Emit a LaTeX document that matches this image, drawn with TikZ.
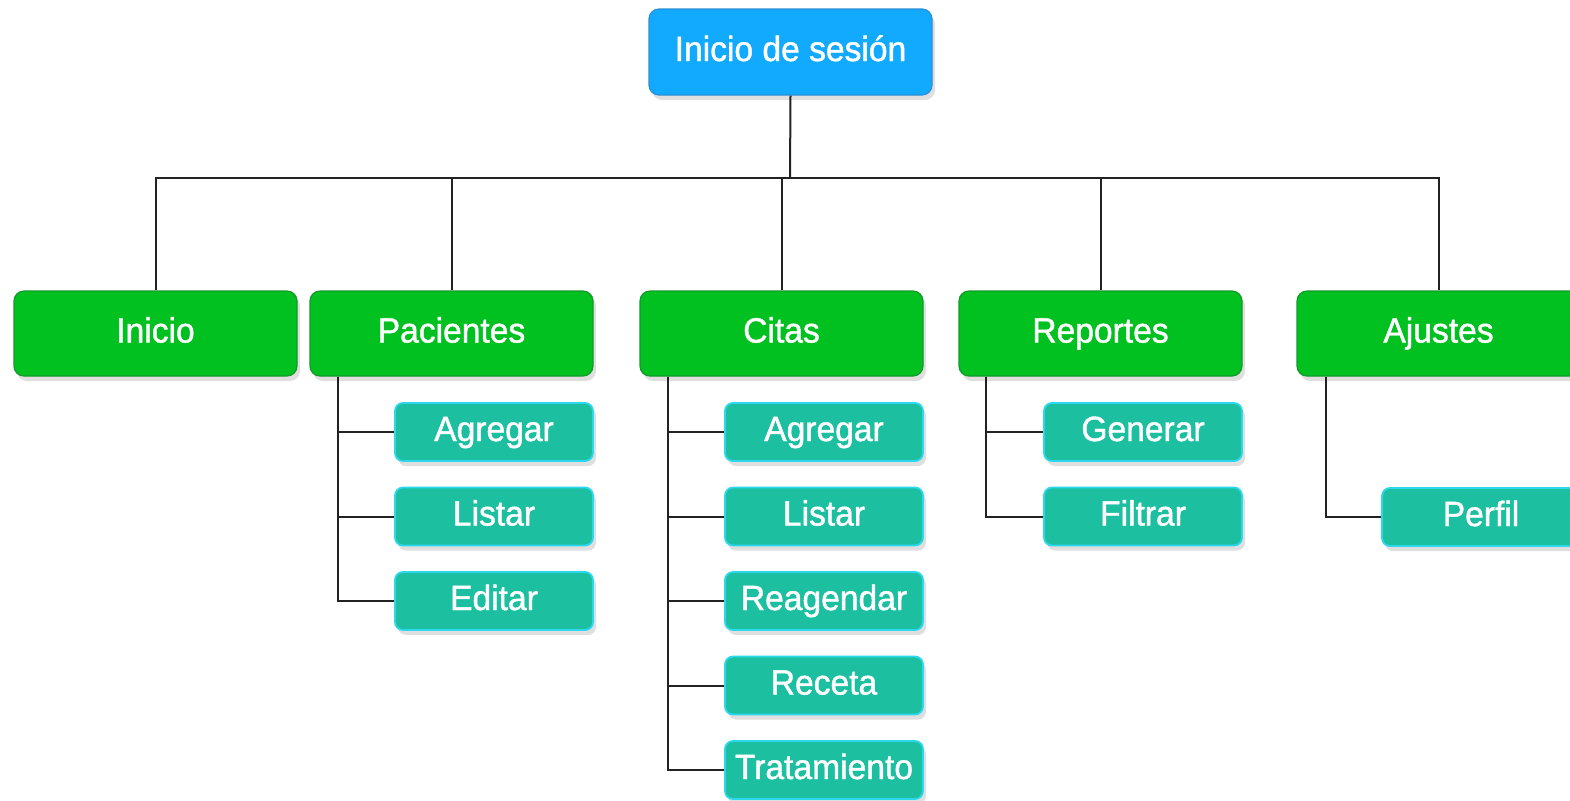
\documentclass[tikz,border=0pt]{standalone}
\usepackage{fontspec}
\setmainfont[FakeStretch=0.96, FakeBold=1.2]{Liberation Sans}
\usetikzlibrary{positioning,shadows}

\definecolor{rootBlue}{HTML}{12AAFF}
\definecolor{rootEdge}{HTML}{2A8FD8}
\definecolor{mainGreen}{HTML}{00C11F}
\definecolor{mainEdge}{HTML}{139A2A}
\definecolor{subTeal}{HTML}{1CBFA0}
\definecolor{subEdge}{HTML}{2BD8EE}
\definecolor{wireGray}{HTML}{222222}

\tikzset{
  boxBase/.style={rounded corners=5pt, text=white, font=\fontsize{17.5}{20}\selectfont,
    inner sep=0pt, line width=0.6pt, text height=12.5pt, text depth=3.5pt,
    drop shadow={shadow xshift=1.5pt, shadow yshift=-2.5pt, opacity=0.18, fill=black!70}},
  rootBox/.style={boxBase, fill=rootBlue, draw=rootEdge, minimum width=141.5pt, minimum height=43pt},
  mainBox/.style={boxBase, fill=mainGreen, draw=mainEdge, minimum width=141.5pt, minimum height=42.5pt},
  subBox/.style={boxBase, fill=subTeal, draw=subEdge, line width=0.9pt, rounded corners=4pt,
    minimum width=99pt, minimum height=29pt},
  wire/.style={draw=wireGray, line width=1pt}
}

\begin{document}
\begin{tikzpicture}[x=0.5pt, y=-0.5pt]
        \useasboundingbox (0,0) rectangle (1570,800);
        % Top node
        \node[rootBox] (root) at (790.5,52) {Inicio de sesión};
        % Main sections
        \node[mainBox] (inicio) at (155.5,333.5) {Inicio};
        \node[mainBox] (pacientes) at (451.5,333.5) {Pacientes};
        \node[mainBox] (citas) at (781.5,333.5) {Citas};
        \node[mainBox] (reportes) at (1100.5,333.5) {Reportes};
        \node[mainBox] (ajustes) at (1438.5,333.5) {Ajustes};
        % Sub items
        \foreach \name [count=\k] in {Agregar,Listar,Editar} {
            \node[subBox] (pac\k) at (494, 347.5+84.5*\k) {\name};
        }
        \foreach \name [count=\k] in {Agregar,Listar,Reagendar,Receta,Tratamiento} {
            \node[subBox] (cit\k) at (824, 347.5+84.5*\k) {\name};
        }
        \foreach \name [count=\k] in {Generar,Filtrar} {
            \node[subBox] (rep\k) at (1143, 347.5+84.5*\k) {\name};
        }
        \node[subBox] (aju1) at (1481,517) {Perfil};
        % Bus from the top node
        \coordinate (bus) at (790,178);
        \draw[wire] (root.south) -- (bus);
        \draw[wire] (inicio.north) -- (inicio.north |- bus) -- (ajustes.north |- bus) -- (ajustes.north);
        \foreach \sec in {pacientes,citas,reportes} {
            \draw[wire] (\sec.north) -- (\sec.north |- bus);
        }
        % Branches to the sub items
        \foreach \k in {1,2,3} {
            \draw[wire] ([xshift=14.5pt]pacientes.south west) |- (pac\k.west);
        }
        \foreach \k in {1,...,5} {
            \draw[wire] ([xshift=14.5pt]citas.south west) |- (cit\k.west);
        }
        \foreach \k in {1,2} {
            \draw[wire] ([xshift=14pt]reportes.south west) |- (rep\k.west);
        }
        \draw[wire] ([xshift=15pt]ajustes.south west) |- (aju1.west);
    \end{tikzpicture}
\end{document}
